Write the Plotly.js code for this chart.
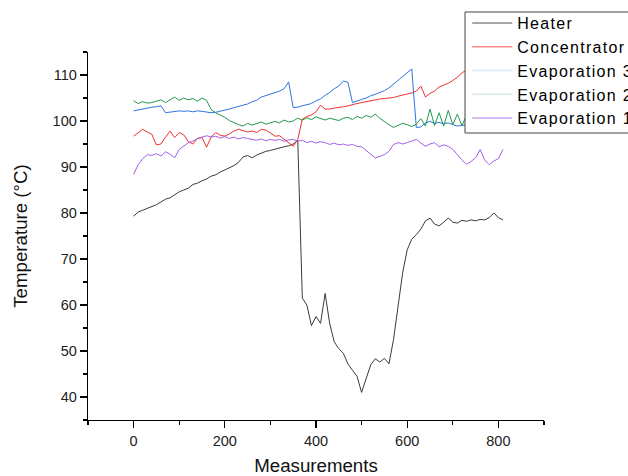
<!DOCTYPE html>
<html>
<head>
<meta charset="utf-8">
<script src="https://cdn.plot.ly/plotly-3.0.1.min.js"></script>
<style>html,body{margin:0;padding:0;background:#fff;}#chart{width:628px;height:476px;}
.legendtext{letter-spacing:1.3px;}</style>
</head>
<body>
<div id="chart"></div>
<script>
const measurements = [0,10,20,30,40,50,60,70,80,90,100,110,120,130,140,150,160,170,180,190,200,210,220,230,240,250,260,270,280,290,300,310,320,330,340,350,360,370,380,390,400,410,420,430,440,450,460,470,480,490,500,510,520,530,540,550,560,570,580,590,600,610,620,630,640,650,660,670,680,690,700,710,720,730,740,750,760,770,780,790,800,810];

const heater = [79.3,80.2,80.6,81.0,81.5,81.8,82.4,83.0,83.3,84.0,84.6,85.0,85.4,86.2,86.5,87.0,87.4,88.0,88.3,88.9,89.4,89.8,90.3,91.0,92.2,92.5,92.0,92.6,93.0,93.4,93.6,93.9,94.2,94.4,94.6,95.0,95.8,61.5,60.0,55.5,57.5,56.0,62.5,56.0,52.0,50.5,49.5,47.2,45.8,44.5,41.0,44.0,47.0,48.3,47.6,48.4,47.2,52.5,60.0,67.0,72.0,74.3,75.3,76.5,78.3,78.9,77.6,77.2,78.0,78.9,78.0,77.8,78.4,78.2,78.5,78.3,78.6,78.5,79.0,80.0,79.0,78.5];

const concentrator = [96.7,97.5,98.2,97.6,97.1,94.8,95.0,96.5,97.8,96.4,97.5,97.0,95.5,95.0,96.2,96.4,94.3,96.5,97.5,96.9,96.7,97.2,97.8,98.2,97.9,97.6,97.8,97.5,98.2,98.0,97.4,96.7,96.8,96.0,95.4,94.5,96.0,100.4,101.0,101.3,102.0,103.4,102.6,102.6,102.8,102.9,103.1,103.3,103.6,103.8,104.0,104.2,104.4,104.7,104.8,104.9,105.0,105.1,105.4,105.6,105.8,106.1,106.5,107.6,105.2,106.0,106.5,107.4,107.8,108.2,108.8,109.5,110.5,111.0,111.2,111.4,111.6,111.8,112.0,112.2,112.4,112.5];

const evaporation3 = [102.2,102.4,102.7,102.9,103.0,103.1,103.3,101.8,101.9,102.0,102.2,102.1,102.2,102.0,102.2,102.1,101.9,101.8,101.9,102.1,102.3,102.6,102.9,103.2,103.4,103.7,104.2,104.5,105.2,105.5,105.8,106.1,106.5,107.0,108.5,102.9,103.0,103.3,103.5,103.8,104.4,104.8,105.6,106.2,107.0,107.6,108.7,108.4,104.0,104.4,104.7,105.0,105.5,105.8,106.2,106.6,107.2,108.0,108.9,109.8,110.6,111.3,98.6,98.7,99.6,99.9,99.5,99.7,99.4,99.6,99.2,98.9,99.0,99.3,99.5,99.4,99.6,99.5,99.7,99.4,99.6,99.5];

const evaporation2 = [104.4,103.8,104.2,103.9,104.0,104.3,104.6,104.0,104.6,105.2,104.5,105.0,104.6,104.9,104.3,105.0,104.5,102.5,101.8,101.3,100.8,100.1,99.6,99.2,98.9,99.5,99.1,99.4,99.8,99.3,99.6,99.9,99.6,100.2,99.8,100.0,100.6,100.2,100.7,100.3,100.9,100.5,100.2,100.6,100.4,100.1,100.6,100.8,100.3,101.0,100.6,101.2,100.8,101.5,100.6,99.8,99.2,98.6,99.0,99.5,99.2,98.8,99.3,100.5,98.9,102.6,99.0,101.8,98.9,102.3,99.2,101.5,99.0,101.2,99.3,100.8,99.5,100.5,99.8,100.3,99.6,100.0];

const evaporation1 = [88.4,90.5,91.8,92.7,92.5,92.9,92.4,93.3,92.8,92.0,93.8,94.5,95.3,95.6,96.2,96.5,96.8,96.5,96.7,96.3,96.6,96.2,96.5,96.1,96.4,96.2,96.0,95.8,96.1,95.7,96.0,95.8,96.0,95.6,95.9,96.0,95.6,95.8,95.3,95.6,95.2,95.5,95.3,94.9,95.2,94.8,95.0,94.7,94.9,94.5,94.4,93.6,92.6,92.0,92.3,92.7,93.4,94.9,95.3,95.0,95.3,95.6,96.0,95.2,94.5,95.0,95.3,94.4,94.8,94.5,93.8,92.7,91.5,90.6,91.2,92.0,93.8,91.5,90.5,91.3,91.8,93.8];

const seriesNames = ["Heater","Concentrator","Evaporation 3","Evaporation 2","Evaporation 1"];
const seriesData = [heater, concentrator, evaporation3, evaporation2, evaporation1];
const lineColors = ["#3a3a3a","#f03030","#2f74e0","#1f9a4c","#a35ee8"];
const legendColors = ["#8a8a8a","#ff8a8a","#dce7fb","#d6ece0","#c9a3f2"];

const traces = [];
seriesData.forEach((ys, i) => {
  traces.push({x: measurements, y: ys, type: "scatter", mode: "lines",
    line: {color: lineColors[i], width: 1}, showlegend: false, hoverinfo: "skip"});
});
seriesNames.forEach((nm, i) => {
  traces.push({x: [null], y: [null], type: "scatter", mode: "lines", name: nm,
    line: {color: legendColors[i], width: 1.5}, showlegend: true});
});

const axisCommon = {
  showline: true, linecolor: "#000", linewidth: 1.3, mirror: false,
  showgrid: false, zeroline: false,
  ticks: "outside", ticklen: 7, tickwidth: 1.3, tickcolor: "#000",
  tickfont: {family: "Arial, Liberation Sans, sans-serif", size: 14.5, color: "#222"},
};

const layout = {
  width: 628, height: 476,
  margin: {l: 88, r: 84, t: 52, b: 56, autoexpand: false},
  paper_bgcolor: "#fff", plot_bgcolor: "#fff",
  font: {family: "Arial, Liberation Sans, sans-serif", color: "#111"},
  xaxis: Object.assign({}, axisCommon, {
    range: [-100, 900], tickvals: [0,200,400,600,800],
    minor: {tickvals: [-100,100,300,500,700,900], ticks: "outside", ticklen: 4, tickwidth: 1.3, tickcolor: "#000"},
    title: {text: "Measurements", font: {size: 18.7, color: "#111"}, standoff: 15}
  }),
  yaxis: Object.assign({}, axisCommon, {
    range: [35, 115], tickvals: [40,50,60,70,80,90,100,110],
    minor: {tickvals: [35,45,55,65,75,85,95,105,115], ticks: "outside", ticklen: 4, tickwidth: 1.3, tickcolor: "#000"},
    title: {text: "Temperature (°C)", font: {size: 18.7, color: "#111"}, standoff: 20}
  }),
  shapes: [{
    type: "rect", xref: "paper", yref: "paper", layer: "above",
    x0: 0.8268, x1: 1.4, y0: 0.7799, y1: 1.1087,
    fillcolor: "#fff", line: {color: "#444", width: 1}
  }],
  legend: {
    x: 0.8316, y: 1.125, xanchor: "left", yanchor: "top",
    bgcolor: "rgba(0,0,0,0)", borderwidth: 0,
    font: {family: "Arial, Liberation Sans, sans-serif", size: 16, color: "#000"},
    itemwidth: 40,
    tracegroupgap: 0
  }
};

Plotly.newPlot("chart", traces, layout, {displayModeBar: false, staticPlot: true});
</script>
</body>
</html>
